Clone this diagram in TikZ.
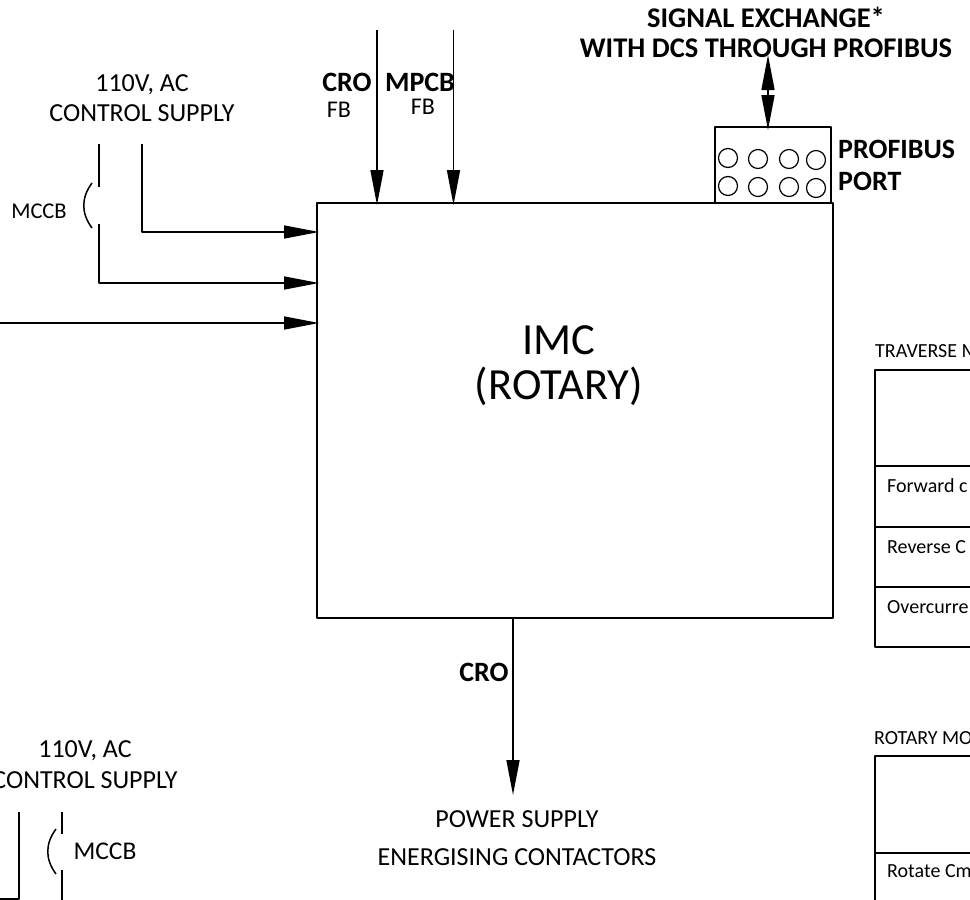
\documentclass[tikz,border=0pt]{standalone}
\usepackage{fontspec}
\setmainfont{Carlito}
\usetikzlibrary{arrows.meta}
\tikzset{
  wire/.style={line width=1.5pt},
  feed/.style={wire,shorten >=-2pt,-{Triangle[length=35pt,width=13pt]}},
  txtbig/.style={inner sep=0pt,align=center,font=\fontsize{26}{29.5}\selectfont},
  txtbold/.style={inner sep=0pt,align=center,font=\fontsize{28}{30}\selectfont\bfseries},
  txtfb/.style={inner sep=0pt,font=\fontsize{24}{28}\selectfont},
  txtsmall/.style={inner sep=0pt,anchor=west,font=\fontsize{20}{24}\selectfont},
  tblline/.style={line width=1.7pt}
}
\begin{document}
\begin{tikzpicture}[x=1pt,y=-1pt,line join=round]
\clip (0,0) rectangle (970,900);
\node[draw,wire,minimum width=516pt,minimum height=415pt,inner sep=0pt,outer sep=0pt] (imc) at (575,410.5) {};
\node[draw,wire,minimum width=116pt,minimum height=76pt,inner sep=0pt,outer sep=0pt] (port) at (773,165) {};
\node[inner sep=0pt,align=center,font=\fontsize{44.5}{45}\selectfont] (imctxt) at (559,366) {IMC\\(ROTARY)};
\node[txtbig] (supplyA) at (142,98) {110V, AC\\CONTROL SUPPLY};
\node[txtbig,font=\fontsize{26}{31}\selectfont] (supplyB) at (85,765) {110V, AC\\CONTROL SUPPLY};
\node[txtbold,font=\fontsize{28.5}{30}\selectfont\bfseries] (signal) at (766,32) {SIGNAL EXCHANGE*\\WITH DCS THROUGH PROFIBUS};
\node[txtbold,anchor=west,align=left,font=\fontsize{28}{32}\selectfont\bfseries] (porttxt) at (838,165) {PROFIBUS\\PORT};
\node[txtbold] (croA) at (347,82) {CRO};\node[txtbold] (mpcb) at (420,82) {MPCB};
\node[txtfb] (fbA) at (339,110) {FB};\node[txtfb] (fbB) at (423,107) {FB};
\node[txtbold] (croB) at (484,672) {CRO};
\node[txtbig,font=\fontsize{26}{38}\selectfont] (power) at (517,838) {POWER SUPPLY\\ENERGISING CONTACTORS};
\node[txtfb,font=\fontsize{22.5}{26}\selectfont] (mccbA) at (39,211) {MCCB};
\node[txtfb,font=\fontsize{25.5}{28}\selectfont] (mccbB) at (105,851) {MCCB};
\coordinate (a1) at (142,144);\coordinate (a2) at (99,144);\coordinate (a3) at (99,187);\coordinate (a4) at (99,224);\coordinate (a5) at (0,323);
\coordinate (b1) at (377,30);\coordinate (b2) at (453.5,30);\coordinate (c1) at (768,55);\coordinate (c2) at (513,793);
\draw[feed] (a1) |- (imc.west |- 0,232);
\draw[wire] (a2) -- (a3);
\draw[feed] (a4) |- (imc.west |- 0,283);
\draw[feed] (a5) -- (imc.west |- a5);
\draw[feed] (b1) -- (imc.north -| b1);
\draw[feed] (b2) -- (imc.north -| b2);
\draw[wire,shorten >=-3pt,{Triangle[length=35pt,width=13pt]}-{Triangle[length=35pt,width=13pt]}] (c1) -- (port.north -| c1);
\draw[feed] (imc.south -| c2) -- (c2);
\draw[wire] (92,183) .. controls (81,198) and (81,213) .. (92,228);
\draw[wire] (56,829) .. controls (45,844) and (45,859) .. (56,874);
\draw[wire] (62,812)--(62,834);\draw[wire] (62,870)--(62,900);
\draw[wire] (19,812)--(19,899)--(0,899);
\foreach \cx/\cy in {728/158,758/159,789/159,816/160,728/186,758/187,789/187,816/188}
  \draw[line width=1.2pt] (\cx,\cy) circle (9.5);
\node[txtsmall] (travtxt) at (875,351) {TRAVERSE M};
\draw[tblline] (970,370)--(875,370)--(875,647)--(970,647);
\draw[tblline] (875,466)--(970,466);\draw[tblline] (875,527)--(970,527);\draw[tblline] (875,587)--(970,587);
\node[txtsmall] (fwd) at (887,486) {Forward c};\node[txtsmall] (rev) at (887,547) {Reverse C};\node[txtsmall] (ovr) at (887,607) {Overcurre};
\node[txtsmall] (rottxt) at (874,738) {ROTARY MO};
\draw[tblline] (970,756)--(875,756)--(875,900);
\draw[tblline] (875,853)--(970,853);
\node[txtsmall] (rot) at (887,871) {Rotate Cm};
\end{tikzpicture}
\end{document}
